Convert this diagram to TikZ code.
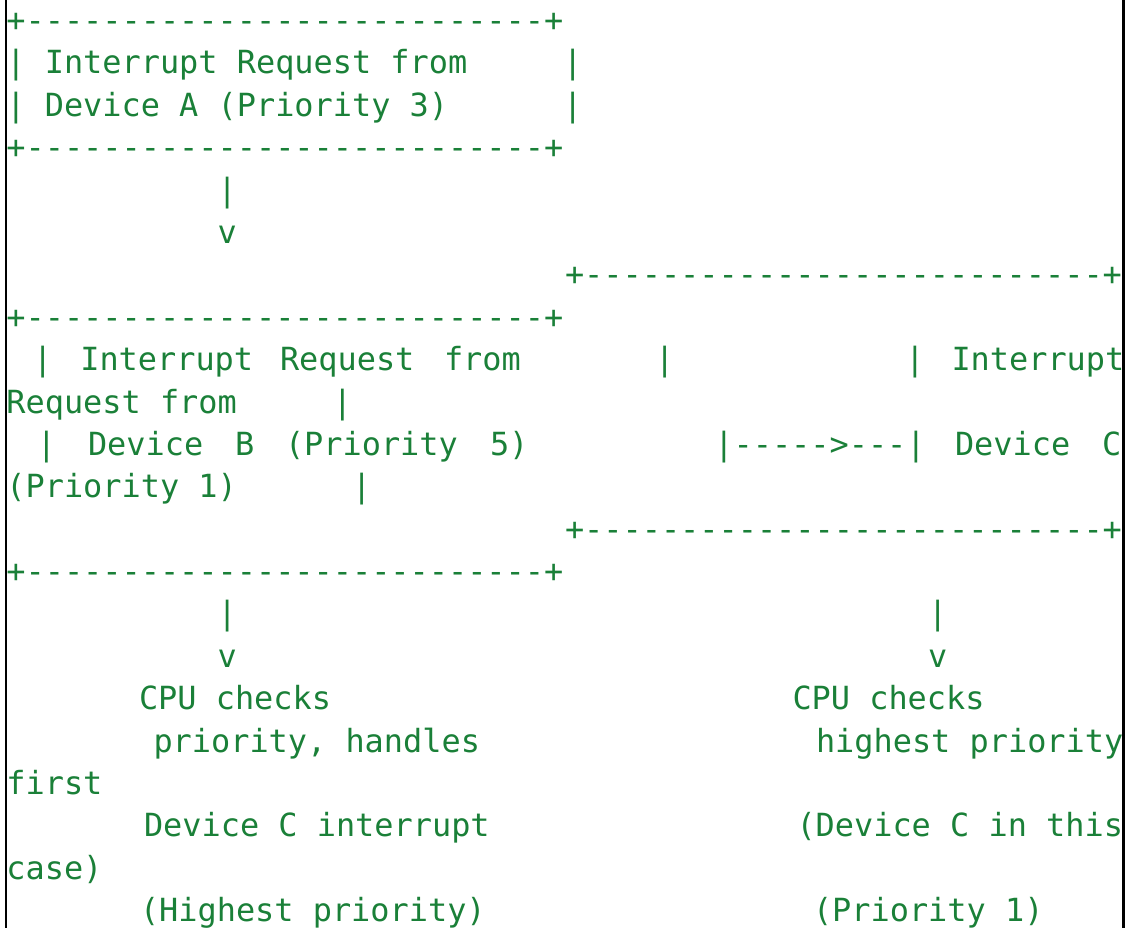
\documentclass[tikz,border=0pt]{standalone}
\usepackage{fontspec}
\newfontfamily\asciimono{DejaVu Sans Mono}
\definecolor{ink}{RGB}{26,128,56}
\newcommand\dashrun[1]{\foreach \dashi in {1,...,#1}{\mbox{-}}}
\tikzset{
  txt/.style={anchor=base west, inner sep=0pt, outer sep=0pt, text=ink,
              font=\asciimono\fontsize{31.9}{38}\selectfont},
  frameline/.style={draw=black, line width=2.5pt}
}
\begin{document}
\begin{tikzpicture}[x=1pt, y=-1pt]
\useasboundingbox (0,0) rectangle (1130,928);
% --- box A
\node[txt] (a1) at (6.4,31.6) {+\dashrun{27}+};
\node[txt] (a2) at (6.4,74.0) {| Interrupt Request from};
\node[txt] (a2r) at (563.2,74.0) {|};
\node[txt] (a3) at (6.4,116.4) {| Device A (Priority 3)};
\node[txt] (a3r) at (563.2,116.4) {|};
\node[txt] (a4) at (6.4,158.7) {+\dashrun{27}+};
\node[txt] (a5) at (217.6,201.1) {|};
\node[txt] (a6) at (217.6,243.5) {v};
% --- box C top border
\node[txt] (c1) at (565.0,285.9) {+\dashrun{27}+};
% --- box B top border
\node[txt] (b1) at (6.4,328.3) {+\dashrun{27}+};
% --- line 9
\node[txt] (l9a) at (33.2,370.6) {|};
\node[txt] (l9b) at (80.3,370.6) {Interrupt};
\node[txt] (l9c) at (280.0,370.6) {Request};
\node[txt] (l9d) at (444.0,370.6) {from};
\node[txt] (l9e) at (655.2,370.6) {|};
\node[txt] (l9f) at (905.4,370.6) {|};
\node[txt] (l9g) at (951.5,370.6) {Interrupt};
% --- line 10
\node[txt] (l10a) at (6.4,413.0) {Request from};
\node[txt] (l10b) at (332.8,413.0) {|};
% --- line 11
\node[txt] (l11a) at (36.9,455.4) {|};
\node[txt] (l11b) at (88.0,455.4) {Device};
\node[txt] (l11c) at (235.0,455.4) {B};
\node[txt] (l11d) at (285.0,455.4) {(Priority};
\node[txt] (l11e) at (490.0,455.4) {5)};
\node[txt] (l11f) at (714.4,455.4) {|\dashrun{5}>\dashrun{3}|};
\node[txt] (l11g) at (955.0,455.4) {Device};
\node[txt] (l11h) at (1102.0,455.4) {C};
% --- line 12
\node[txt] (l12a) at (6.4,497.8) {(Priority 1)};
\node[txt] (l12b) at (352.0,497.8) {|};
% --- bottom borders
\node[txt] (c2) at (565.0,540.2) {+\dashrun{27}+};
\node[txt] (b2) at (6.4,582.5) {+\dashrun{27}+};
% --- arrows down
\node[txt] (p1) at (217.6,624.9) {|};
\node[txt] (p2) at (928.0,624.9) {|};
\node[txt] (v1) at (217.6,667.3) {v};
\node[txt] (v2) at (928.0,667.3) {v};
% --- results
\node[txt] (r1a) at (139.0,709.7) {CPU checks};
\node[txt] (r1b) at (792.5,709.7) {CPU checks};
\node[txt] (r2a) at (153.5,752.1) {priority, handles};
\node[txt] (r2b) at (816.0,752.1) {highest priority};
\node[txt] (r3) at (6.4,794.4) {first};
\node[txt] (r4a) at (144.0,836.8) {Device C interrupt};
\node[txt] (r4b) at (796.5,836.8) {(Device C in this};
\node[txt] (r5) at (6.4,879.2) {case)};
\node[txt] (r6a) at (140.0,921.6) {(Highest priority)};
\node[txt] (r6b) at (813.0,921.6) {(Priority 1)};
% --- frame
\draw[frameline] (6.2,0) -- (6.2,928);
\draw[frameline] (1123.6,0) -- (1123.6,928);
\end{tikzpicture}
\end{document}
